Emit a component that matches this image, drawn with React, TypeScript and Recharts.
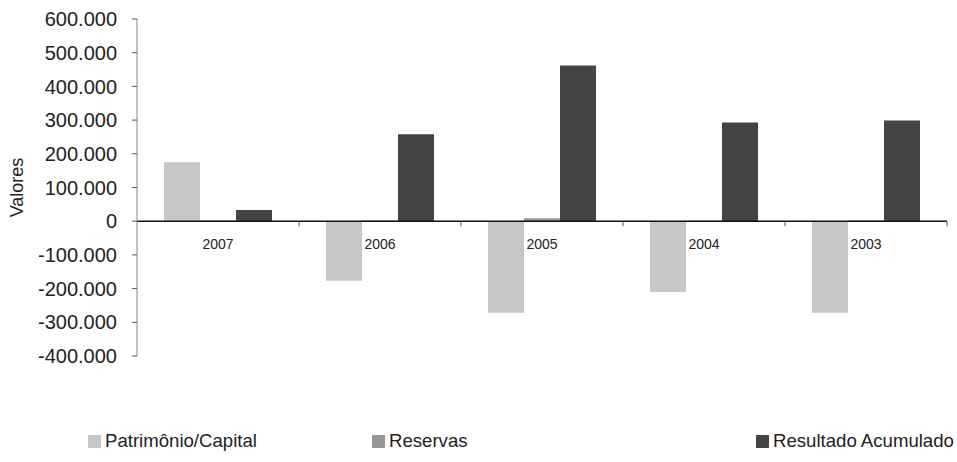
import { BarChart, Bar, XAxis, YAxis, ReferenceLine, Legend } from 'recharts';

const YEARS = ['2007', '2006', '2005', '2004', '2003'];
const PATRIMONIO = [175000, -177000, -272000, -210000, -272000];
const RESERVAS = [2000, 2000, 9000, 1500, 2000];
const RESULTADO = [33000, 258000, 462000, 293000, 299000];
const Y_TICKS = [-400000, -300000, -200000, -100000, 0, 100000, 200000, 300000, 400000, 500000, 600000];

const SERIES = [
  { key: 'patrimonio', name: 'Patrimônio/Capital', color: '#c6c6c6', left: 88 },
  { key: 'reservas', name: 'Reservas', color: '#969696', left: 372 },
  { key: 'resultado', name: 'Resultado Acumulado', color: '#444444', left: 756 },
];

const data = YEARS.map((year, i) => ({
  year,
  patrimonio: PATRIMONIO[i],
  reservas: RESERVAS[i],
  resultado: RESULTADO[i],
}));

const W = 957;
const H = 462;
const FONT = '"Liberation Sans", Arial, Helvetica, sans-serif';
const M = { top: 19, right: 10, bottom: 76, left: 0 };
const Y_W = 137;
const X_H = 30;
const PLOT_W = W - M.left - M.right - Y_W;
const PLOT_H = H - M.top - M.bottom - X_H;
const Y_MIN = -400000;
const Y_MAX = 600000;
const ZERO_Y = M.top + (PLOT_H * Y_MAX) / (Y_MAX - Y_MIN);
const BAND = PLOT_W / YEARS.length;

const fmt = (v: number) => (v === 0 ? '0' : (v < 0 ? '-' : '') + Math.abs(v / 1000) + '.000');

function CategoryTick({ x, payload }: any) {
  return (
    <g>
      <text x={x} y={ZERO_Y + 28} textAnchor="middle" fontSize={14} fill="#222" fontFamily={FONT}>
        {payload.value}
      </text>
      <line x1={x + BAND / 2} x2={x + BAND / 2} y1={ZERO_Y} y2={ZERO_Y + 5} stroke="#555" />
    </g>
  );
}

function LegendBox() {
  return (
    <div style={{ position: 'relative', width: W, height: 22, fontFamily: FONT, fontSize: 18.6, color: '#222' }}>
      {SERIES.map((s) => (
        <div key={s.key} style={{ position: 'absolute', left: s.left, top: 0, display: 'flex', alignItems: 'center', whiteSpace: 'nowrap' }}>
          <span style={{ display: 'inline-block', width: 13, height: 13, background: s.color, marginRight: 4 }} />
          <span>{s.name}</span>
        </div>
      ))}
    </div>
  );
}

export default function App() {
  return (
    <div style={{ position: 'absolute', left: 0, top: 0, width: W, height: H, background: '#fff' }}>
      <BarChart width={W} height={H} data={data} margin={M} barCategoryGap={27} barGap={0}>
        <XAxis dataKey="year" height={X_H} axisLine={false} tickLine={false} tick={<CategoryTick />} interval={0} />
        <YAxis
          width={Y_W}
          domain={[Y_MIN, Y_MAX]}
          ticks={Y_TICKS}
          interval={0}
          tickFormatter={fmt}
          tickSize={5}
          tickMargin={15}
          axisLine={{ stroke: '#888' }}
          tickLine={{ stroke: '#555' }}
          tick={{ fontSize: 20, fill: '#222', fontFamily: FONT }}
          label={{ value: 'Valores', angle: -90, position: 'insideLeft', offset: 17, style: { textAnchor: 'middle', fontSize: 18, fill: '#222', fontFamily: FONT } }}
        />
        {SERIES.map((s) => (
          <Bar key={s.key} dataKey={s.key} name={s.name} fill={s.color} isAnimationActive={false} />
        ))}
        <ReferenceLine y={0} stroke="#111" strokeWidth={1.5} />
        <Legend
          layout="horizontal"
          verticalAlign="middle"
          align="center"
          content={<LegendBox />}
          wrapperStyle={{ top: 430, left: 0, width: W }}
        />
      </BarChart>
    </div>
  );
}
